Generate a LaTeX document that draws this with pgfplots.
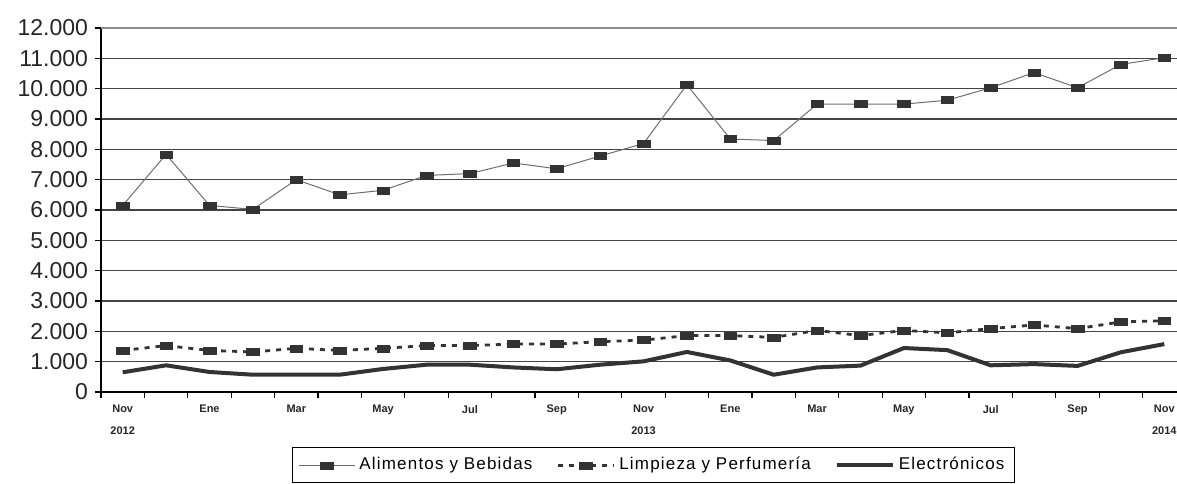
\documentclass[border=0pt]{standalone}
\usepackage{pgfplots}
\pgfplotsset{compat=1.18}
\usepackage{fontspec}
\setmainfont{Liberation Sans}
\newfontfamily\spaced[LetterSpace=7]{Liberation Sans}
\definecolor{serie}{HTML}{333333}
\definecolor{fina}{HTML}{6E6E6E}
\definecolor{rejilla}{HTML}{444444}

% meses: 0 = Nov 2012 ... 24 = Nov 2014
\pgfplotstableread{
i alim limp elec
0 6150 1370 650
1 7835 1530 880
2 6150 1370 660
3 6020 1320 570
4 7000 1440 570
5 6500 1370 570
6 6650 1440 760
7 7140 1530 900
8 7200 1530 900
9 7550 1580 810
10 7360 1580 750
11 7780 1660 900
12 8190 1710 1010
13 10130 1860 1320
14 8340 1860 1040
15 8290 1800 570
16 9490 2030 810
17 9490 1860 870
18 9490 2030 1450
19 9620 1950 1380
20 10030 2090 880
21 10530 2210 920
22 10030 2090 860
23 10800 2310 1310
24 11020 2350 1580
}\datos

\begin{document}
\begin{tikzpicture}
\useasboundingbox (0,0) rectangle (588.5pt,241.5pt);
\begin{axis}[
  at={(50.5pt,45.5pt)}, anchor=south west,
  scale only axis, width=542.5pt, height=182pt,
  xmin=-0.5, xmax=24.5, ymin=0, ymax=12000,
  axis lines*=left,
  axis line style={line width=0.8pt, black},
  tick align=outside,
  major tick length=3pt,
  tick style={black, line width=0.6pt},
  ytick={0,1000,...,11000},
  extra y ticks={12000},
  extra y tick style={grid style={black!45, line width=1pt}},
  scaled y ticks=false,
  /pgf/number format/1000 sep={.},
  /pgf/number format/assume math mode=true,
  yticklabel style={font=\fontsize{11.5}{12}\selectfont, text=black!85},
  ymajorgrids,
  grid style={rejilla, line width=0.7pt},
  xtick={-0.5,0.5,...,24.5},
  xticklabels={,,,,,,,,,,,,,,,,,,,,,,,,,,},
  extra x ticks={0,2,...,24},
  extra x tick labels={{Nov\\2012},Ene,Mar,May,Jul,Sep,{Nov\\2013},Ene,Mar,May,Jul,Sep,{Nov\\2014}},
  extra x tick style={major tick length=0pt, grid=none},
  xticklabel style={align=center, font=\fontsize{5.5}{11}\selectfont\bfseries, text=black!85, yshift=-3pt},
  legend columns=3,
  legend style={at={(0.176,-0.151)}, anchor=north west, draw=black, line width=0.5pt,
    font=\spaced\fontsize{8.5}{10}\selectfont, inner ysep=3pt, inner xsep=3pt,
    /tikz/every even column/.append style={column sep=10pt}},
  legend image code/.code={
    \draw[mark repeat=2, mark phase=2, #1] plot coordinates {(0pt,0pt) (14pt,0pt) (28pt,0pt)};
  },
]
\addplot[fina, line width=0.5pt, mark=square*,
  mark options={solid, fill=serie, draw=serie, xscale=1.8, line width=0.2pt}, mark size=1.75pt]
  table[x=i, y=alim] {\datos};
\addlegendentry{Alimentos y Bebidas}
\addplot[serie, line width=1.4pt, dash pattern=on 2.5pt off 3pt, mark=square*,
  mark options={solid, fill=serie, draw=serie, xscale=1.8, line width=0.2pt}, mark size=1.75pt]
  table[x=i, y=limp] {\datos};
\addlegendentry{Limpieza y Perfumería}
\addplot[serie, line width=2pt, no marks]
  table[x=i, y=elec] {\datos};
\addlegendentry{Electrónicos}
\end{axis}
\end{tikzpicture}
\end{document}
